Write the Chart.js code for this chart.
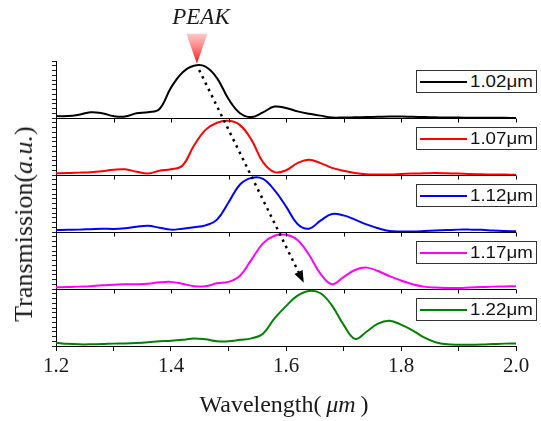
<!DOCTYPE html>
<html>
<head>
<meta charset="utf-8">
<script src="https://cdn.jsdelivr.net/npm/chart.js@4.4.0/dist/chart.umd.min.js"></script>
<style>
  body { margin: 0; background: #fff; }
  #wrap { position: relative; width: 541px; height: 421px; overflow: hidden; }
  #wrap canvas { position: absolute; left: 0; top: 0; }
  .serif { position: absolute; white-space: nowrap; color: #1a1a1a; font-family: "Liberation Serif", "Times New Roman", serif; }
  #peak { left: 201px; top: 5px; font-size: 23px; line-height: 24px; font-style: italic; transform: translateX(-50%); }
  #xtitle { left: 284px; top: 392px; font-size: 24px; line-height: 24px; transform: translateX(-50%); }
  #ytitle { left: 24px; top: 224px; font-size: 26px; line-height: 26px; transform: translate(-50%, -50%) rotate(-90deg); }
  .leg { position: absolute; left: 416px; width: 121px; height: 23px; box-sizing: border-box;
         border: 1px solid #333; background: #fff; }
  .leg .sw { position: absolute; left: 3px; top: 10px; width: 47px; height: 2px; }
  .leg .tx { position: absolute; left: 53px; top: 1px; font-family: "Liberation Sans", Arial, sans-serif;
             font-size: 16px; line-height: 20px; color: #111; transform: scaleX(1.17); transform-origin: left center; }
</style>
</head>
<body>
<div id="wrap">
  <canvas id="grafico" width="541" height="421"></canvas>
  <div id="peak" class="serif">PEAK</div>
  <div id="xtitle" class="serif">Wavelength(<i>&thinsp;μm&thinsp;</i>)</div>
  <div id="ytitle" class="serif">Transmission(<i>a.u.</i>)</div>
</div>
<script>
// Longitud de onda (µm), eje común de los cinco paneles
const wavelength = [1.20, 1.22, 1.24, 1.26, 1.28, 1.30, 1.32, 1.34, 1.36, 1.38,
                    1.40, 1.42, 1.44, 1.46, 1.48, 1.50, 1.52, 1.54, 1.56, 1.58,
                    1.60, 1.62, 1.64, 1.66, 1.68, 1.70, 1.72, 1.74, 1.76, 1.78,
                    1.80, 1.82, 1.84, 1.86, 1.88, 1.90, 1.92, 1.94, 1.96, 1.98, 2.00];

// Etiquetas de cada curva (leyenda)
const bombeo = ['1.02μm', '1.07μm', '1.12μm', '1.17μm', '1.22μm'];

// Transmisión normalizada
const t102 = [0.04, 0.04, 0.07, 0.12, 0.10, 0.04, 0.03, 0.10, 0.12, 0.19,
              0.64, 0.96, 1.10, 1.08, 0.84, 0.40, 0.10, 0.02, 0.12, 0.24,
              0.21, 0.14, 0.09, 0.05, 0.01, 0.01, 0.015, 0.02, 0.025, 0.03,
              0.03, 0.025, 0.02, 0.015, 0.01, 0.01, 0.005, 0.005, 0.005, 0.003, 0.002];
const t107 = [0.035, 0.04, 0.05, 0.06, 0.08, 0.11, 0.12, 0.07, 0.03, 0.09,
              0.12, 0.20, 0.62, 0.95, 1.10, 1.14, 1.05, 0.74, 0.27, 0.06,
              0.10, 0.25, 0.32, 0.25, 0.15, 0.09, 0.04, 0.015, 0.01, 0.01,
              0.02, 0.03, 0.035, 0.04, 0.035, 0.03, 0.02, 0.015, 0.01, 0.008, 0.005];
const t112 = [0.04, 0.045, 0.05, 0.06, 0.07, 0.065, 0.08, 0.11, 0.13, 0.09,
              0.05, 0.07, 0.10, 0.14, 0.26, 0.62, 1.00, 1.14, 1.12, 0.88,
              0.54, 0.17, 0.07, 0.24, 0.38, 0.35, 0.26, 0.16, 0.08, 0.02,
              0.01, 0.012, 0.02, 0.03, 0.04, 0.05, 0.05, 0.045, 0.03, 0.02, 0.015];
const t117 = [0.035, 0.04, 0.05, 0.06, 0.08, 0.09, 0.10, 0.10, 0.11, 0.14,
              0.15, 0.11, 0.06, 0.06, 0.12, 0.15, 0.28, 0.62, 0.96, 1.12,
              1.14, 1.03, 0.72, 0.32, 0.10, 0.25, 0.40, 0.45, 0.38, 0.27,
              0.18, 0.10, 0.05, 0.03, 0.02, 0.02, 0.03, 0.04, 0.05, 0.055, 0.06];
const t122 = [0.07, 0.045, 0.035, 0.035, 0.04, 0.05, 0.055, 0.065, 0.08, 0.10,
              0.11, 0.13, 0.16, 0.14, 0.10, 0.10, 0.13, 0.16, 0.26, 0.58,
              0.84, 1.06, 1.16, 1.11, 0.85, 0.45, 0.15, 0.30, 0.47, 0.53,
              0.45, 0.33, 0.18, 0.08, 0.035, 0.025, 0.025, 0.03, 0.04, 0.05, 0.055];

// Etiquetas del eje x
const xLabels = ['1.2', '1.4', '1.6', '1.8', '2.0'];

// Flecha punteada (panel 1 -> panel 4) y marca de PEAK, en coordenadas de datos
const flechaDesde = [1.449, 1.01];
const flechaHasta = [1.631, 0.13];
const marcaPeak = [1.445, 1.14];

const series = [t102, t107, t112, t117, t122];
const colores = ['#000000', '#ff0000', '#0000ff', '#ff00ff', '#008000'];
const paneles = ['y1', 'y2', 'y3', 'y4', 'y5'];
const serif = '"Liberation Serif", "Times New Roman", serif';

const datasets = series.map((vals, i) => ({
    label: bombeo[i],
    data: wavelength.map((w, j) => ({ x: w, y: vals[j] })),
    yAxisID: paneles[i],
    borderColor: colores[i],
    borderWidth: 2,
    pointRadius: 0,
    fill: false,
    tension: 0.4
}));

const scales = {
    x: {
        type: 'linear',
        position: 'bottom',
        min: 1.2,
        max: 2.0,
        ticks: {
            stepSize: 0.1,
            autoSkip: false,
            maxRotation: 0,
            padding: 3,
            color: '#1a1a1a',
            font: { family: serif, size: 21 },
            callback: v => {
                const s = v.toFixed(1);
                return xLabels.includes(s) ? s : '';
            }
        },
        grid: { drawOnChartArea: false, tickLength: 5, color: '#000' },
        border: { color: '#000', width: 1 },
        afterFit: a => { a.height = 75; }
    }
};

paneles.forEach((id, i) => {
    scales[id] = {
        type: 'linear',
        position: 'left',
        stack: 'paneles',
        stackWeight: 1,
        weight: paneles.length - i, // el primero queda arriba
        min: 0,
        max: 1.2,
        ticks: { display: false, stepSize: 0.1 },
        grid: {
            color: c => (c.tick && c.tick.value === 0) ? '#000' : 'rgba(0,0,0,0)',
            tickColor: '#222',
            tickLength: 4,
            lineWidth: 1
        },
        border: { display: true, color: '#000', width: 1 },
        afterFit: a => { a.width = 56; }
    };
});

// Ticks colgando de cada separador, flecha punteada y triángulo de PEAK
const decoracion = {
    id: 'decoracion',
    afterDatasetsDraw(chart) {
        const ctx = chart.ctx;
        const x = chart.scales.x;
        ctx.save();

        ctx.strokeStyle = '#000';
        ctx.lineWidth = 1;
        paneles.slice(0, -1).forEach(id => {
            const yb = Math.round(chart.scales[id].bottom) + 0.5;
            x.ticks.forEach(t => {
                const px = Math.round(x.getPixelForValue(t.value)) + 0.5;
                ctx.beginPath();
                ctx.moveTo(px, yb);
                ctx.lineTo(px, yb + 4);
                ctx.stroke();
            });
        });

        // flecha
        const x0 = x.getPixelForValue(flechaDesde[0]);
        const y0 = chart.scales.y1.getPixelForValue(flechaDesde[1]);
        const x1 = x.getPixelForValue(flechaHasta[0]);
        const y1 = chart.scales.y4.getPixelForValue(flechaHasta[1]);
        const ang = Math.atan2(y1 - y0, x1 - x0);
        const largo = 12, medio = 4.5;
        const bx = x1 - largo * Math.cos(ang), by = y1 - largo * Math.sin(ang);
        ctx.setLineDash([2.5, 4.5]);
        ctx.lineWidth = 2.5;
        ctx.beginPath();
        ctx.moveTo(x0, y0);
        ctx.lineTo(bx, by);
        ctx.stroke();
        ctx.setLineDash([]);
        ctx.fillStyle = '#000';
        ctx.beginPath();
        ctx.moveTo(x1, y1);
        ctx.lineTo(bx + medio * Math.sin(ang), by - medio * Math.cos(ang));
        ctx.lineTo(bx - medio * Math.sin(ang), by + medio * Math.cos(ang));
        ctx.closePath();
        ctx.fill();

        // triángulo de PEAK
        const px = x.getPixelForValue(marcaPeak[0]);
        const py = chart.scales.y1.getPixelForValue(marcaPeak[1]);
        const g = ctx.createLinearGradient(0, py - 30, 0, py);
        g.addColorStop(0, 'rgba(255,150,150,0.55)');
        g.addColorStop(1, 'rgba(255,0,0,0.95)');
        ctx.fillStyle = g;
        ctx.beginPath();
        ctx.moveTo(px - 10.5, py - 30);
        ctx.lineTo(px + 10.5, py - 30);
        ctx.lineTo(px, py);
        ctx.closePath();
        ctx.fill();

        ctx.restore();
    }
};

const chart = new Chart(document.getElementById('grafico').getContext('2d'), {
    type: 'line',
    data: { datasets: datasets },
    options: {
        responsive: false,
        animation: false,
        devicePixelRatio: 1,
        layout: { padding: { left: 0, right: 25, top: 61, bottom: 0 } },
        plugins: { legend: { display: false }, tooltip: { enabled: false } },
        scales: scales
    },
    plugins: [decoracion]
});

// Leyendas con recuadro, una por panel
const wrap = document.getElementById('wrap');
paneles.forEach((id, i) => {
    const caja = document.createElement('div');
    caja.className = 'leg';
    caja.style.top = (chart.scales[id].top + 9) + 'px';
    caja.innerHTML = `<span class="sw" style="background:${colores[i]}"></span><span class="tx">${bombeo[i]}</span>`;
    wrap.appendChild(caja);
});
</script>
</body>
</html>
